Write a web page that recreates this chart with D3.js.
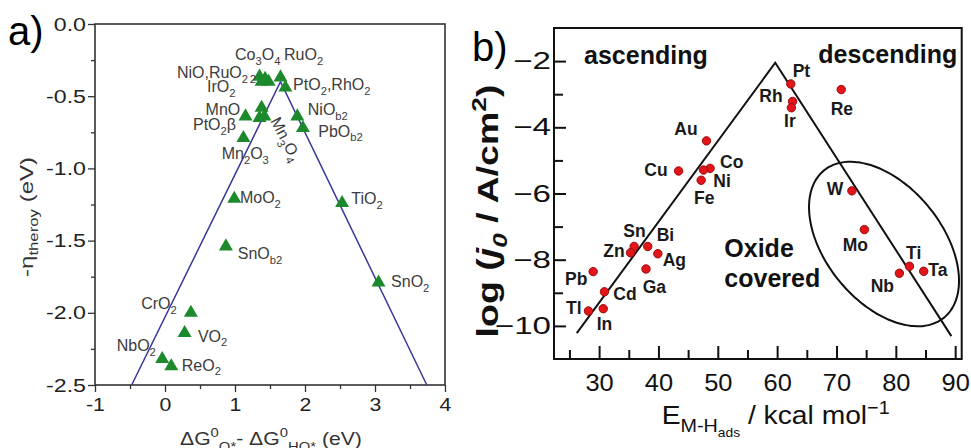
<!DOCTYPE html>
<html><head><meta charset="utf-8">
<script src="https://cdn.jsdelivr.net/npm/d3@7"></script>
<style>
body{margin:0;background:#fff}
text{font-family:"Liberation Sans",Arial,Helvetica,sans-serif;white-space:pre}
</style>
</head><body>
<svg id="c" width="971" height="448"></svg>
<script>
// ---------------- DATA: panel a ----------------
const oxideX = [1.35, 1.43, 1.38, 1.48, 1.65, 1.72, 1.15, 1.38, 1.35, 1.42, 1.89, 1.97, 1.12, 0.99, 2.53, 0.87, 3.05, 0.37, 0.28, -0.04, 0.09];
const oxideY = [-0.365, -0.38, -0.40, -0.40, -0.37, -0.44, -0.64, -0.58, -0.65, -0.64, -0.64, -0.72, -0.79, -1.21, -1.24, -1.54, -1.79, -2.00, -2.14, -2.32, -2.37];
const volcanoAX = [-0.476, 1.65, 3.74];
const volcanoAY = [-2.5, -0.40, -2.5];
const labelA = ["Co_{3}O_{4}", "RuO_{2}", "NiO,RuO_{2}", "IrO_{2}", "PtO_{2},RhO_{2}", "MnO", "NiO_{b2}", "PtO_{2}β", "PbO_{b2}", "Mn_{2}O_{3}", "Mn_{3}O_{4}", "MoO_{2}", "TiO_{2}", "SnO_{b2}", "SnO_{2}", "CrO_{2}", "VO_{2}", "NbO_{2}", "ReO_{2}"];
const labelAX = [1.00, 1.70, 0.17, 0.60, 1.83, 0.58, 2.04, 0.40, 2.19, 0.81, 1.50, 1.07, 2.66, 1.04, 3.23, -0.34, 0.47, -0.69, 0.24];
const labelAY = [-0.25, -0.25, -0.374, -0.47, -0.457, -0.63, -0.63, -0.734, -0.78, -0.935, -0.67, -1.24, -1.247, -1.627, -1.82, -1.974, -2.20, -2.265, -2.40];
const xTicksA = [-1, 0, 1, 2, 3, 4];
const xMinorA = [-0.5, 0.5, 1.5, 2.5, 3.5];
const yTicksA = [0, -0.5, -1.0, -1.5, -2.0, -2.5];
const yMinorA = [-0.25, -0.75, -1.25, -1.75, -2.25];

// ---------------- DATA: panel b ----------------
const metals = ["Pt", "Rh", "Ir", "Re", "Au", "Cu", "Ni", "Co", "Fe", "W", "Mo", "Ti", "Ta", "Nb", "Sn", "Zn", "Bi", "Ag", "Ga", "Pb", "Cd", "Tl", "In"];
const metalE = [62.3, 62.6, 62.4, 70.8, 48.1, 43.4, 48.7, 47.6, 47.2, 72.6, 74.7, 82.3, 84.7, 80.6, 35.9, 35.3, 38.2, 39.9, 37.9, 29.0, 30.9, 28.2, 30.7];
const metalJ = [-2.69, -3.22, -3.41, -2.86, -4.41, -5.32, -5.24, -5.29, -5.60, -5.92, -7.09, -8.20, -8.35, -8.41, -7.60, -7.79, -7.60, -7.82, -8.28, -8.36, -8.97, -9.55, -9.48];
const metalLabelX = [62.62, 56.99, 61.16, 69.03, 42.67, 37.62, 49.25, 50.37, 45.99, 68.35, 71.05, 81.72, 85.47, 75.77, 34.08, 30.71, 39.71, 40.72, 37.35, 24.25, 32.39, 24.42, 29.6];
const metalLabelY = [-2.49, -3.23, -3.98, -3.63, -4.23, -5.47, -5.81, -5.24, -6.32, -6.05, -7.74, -7.99, -8.49, -8.97, -7.31, -7.91, -7.44, -8.18, -9.02, -8.76, -9.22, -9.65, -10.12];
const volcanoBX = [26.24, 59.68, 89.36];
const volcanoBY = [-10.22, -2.05, -10.31];
const ellipseC = [78.01, -7.526];
const ellipseU = [10.11, -2.224];
const ellipseV = [7.58, 1.109];
const regionText = ["ascending", "descending", "Oxide", "covered"];
const regionX = [27.46, 66.94, 51.10, 51.10];
const regionY = [-2.09, -2.07, -7.93, -8.83];
const xTicksB = [30, 40, 50, 60, 70, 80, 90];
const xMinorB = [25, 35, 45, 55, 65, 75, 85];
const yTicksB = [-2, -4, -6, -8, -10];
const yMinorB = [-3, -5, -7, -9];

// ---------------- helpers ----------------
function parse(s) {
  const out = [], stack = []; let buf = "";
  const flush = () => { if (buf) out.push({t: buf, m: stack.slice()}); buf = ""; };
  for (let i = 0; i < s.length; i++) {
    const c = s[i];
    if ((c === "_" || c === "^" || c === "!") && s[i + 1] === "{") { flush(); stack.push(c); i++; }
    else if (c === "}") { flush(); stack.pop(); }
    else buf += c;
  }
  flush();
  return out;
}
function rich(textSel, s, base) {
  let cur = 0;
  parse(s).forEach(seg => {
    let size = base, off = 0, it = false;
    seg.m.forEach(m => {
      if (m === "_") { off += size * 0.3; size *= 0.7; }
      else if (m === "^") { off -= size * 0.4; size *= 0.7; }
      else it = true;
    });
    const ts = textSel.append("tspan").text(seg.t).attr("font-size", size).attr("dy", off - cur);
    if (it) ts.attr("font-style", "italic");
    cur = off;
  });
}
function label(parent, x, y, s, o) {
  const g = parent.append("g").attr("transform", `translate(${x},${y})` + (o.rot ? ` rotate(${o.rot})` : ""));
  const t = g.append("text").attr("font-size", o.size).attr("font-weight", o.weight || "normal")
    .attr("fill", o.fill || "#000").attr("text-anchor", o.anchor || "start");
  rich(t, s, o.size);
  if (o.width) {
    const w = t.node().getComputedTextLength();
    if (w > 0) t.attr("transform", `scale(${o.width / w},1)`);
  }
  return g;
}
function stretchTicks(sel, sx) {
  sel.selectAll(".tick text").each(function () {
    const x = +this.getAttribute("x") || 0;
    this.setAttribute("x", 0);
    this.setAttribute("transform", `translate(${x},0) scale(${sx},1)`);
  });
}

const svg = d3.select("#c");
svg.append("rect").attr("width", 971).attr("height", 448).attr("fill", "#fff");

// ---------------- PANEL A ----------------
const xA = d3.scaleLinear().domain([-1, 4]).range([95, 445]);
const yA = d3.scaleLinear().domain([-2.5, 0]).range([385, 24]);
const gA = svg.append("g");
const axCol = "#333";

const axYA = gA.append("g").attr("transform", `translate(95,0)`)
  .call(d3.axisLeft(yA).tickValues(yTicksA).tickSize(7).tickPadding(2).tickFormat(d => d.toFixed(1)));
axYA.select(".domain").remove();
axYA.selectAll("line").attr("stroke", axCol).attr("stroke-width", 1.3);
axYA.selectAll("text").attr("font-size", 19).attr("fill", "#222").attr("font-family", null);
stretchTicks(axYA, 1.22);
const axYAm = gA.append("g").attr("transform", `translate(95,0)`)
  .call(d3.axisLeft(yA).tickValues(yMinorA).tickSize(4).tickFormat(""));
axYAm.select(".domain").remove();
axYAm.selectAll("line").attr("stroke", axCol).attr("stroke-width", 1.3);

const axXA = gA.append("g").attr("transform", `translate(0,385)`)
  .call(d3.axisBottom(xA).tickValues(xTicksA).tickSize(7).tickPadding(6).tickFormat(d => String(d)));
axXA.select(".domain").remove();
axXA.selectAll("line").attr("stroke", axCol).attr("stroke-width", 1.3);
axXA.selectAll("text").attr("font-size", 19).attr("fill", "#222").attr("font-family", null);
stretchTicks(axXA, 1.12);
const axXAm = gA.append("g").attr("transform", `translate(0,385)`)
  .call(d3.axisBottom(xA).tickValues(xMinorA).tickSize(4).tickFormat(""));
axXAm.select(".domain").remove();
axXAm.selectAll("line").attr("stroke", axCol).attr("stroke-width", 1.3);

gA.append("rect").attr("x", xA(-1)).attr("y", yA(0)).attr("width", xA(4) - xA(-1)).attr("height", yA(-2.5) - yA(0))
  .attr("fill", "none").attr("stroke", axCol).attr("stroke-width", 1.6);

gA.append("path").datum(d3.zip(volcanoAX, volcanoAY))
  .attr("d", d3.line().x(d => xA(d[0])).y(d => yA(d[1])))
  .attr("fill", "none").attr("stroke", "#38389a").attr("stroke-width", 1.5);

gA.selectAll(".tri").data(d3.zip(oxideX, oxideY)).join("path")
  .attr("d", d3.symbol(d3.symbolTriangle, 85))
  .attr("transform", d => `translate(${xA(d[0])},${yA(d[1])})`)
  .attr("fill", "#1c8a2c");

labelA.forEach((s, i) => {
  label(gA, xA(labelAX[i]), yA(labelAY[i]), s, {size: 16, fill: "#3c3c3c", rot: s === "Mn_{3}O_{4}" ? 62 : 0});
});
// stray subscript in the original figure
label(gA, xA(1.21), yA(-0.41), "2", {size: 11.5, fill: "#3c3c3c"});

label(gA, 33, 217, "-η_{theroy} (eV)", {size: 18, fill: "#333", rot: -90, anchor: "middle", width: 120});
label(gA, 180, 445, "ΔG^{0}_{O*}- ΔG^{0}_{HO*} (eV)", {size: 19, fill: "#333", width: 182});
label(svg, 8, 45, "a)", {size: 40});

// ---------------- PANEL B ----------------
const xB = d3.scaleLinear().domain([22.4, 91.1]).range([554, 961.7]);
const yB = d3.scaleLinear().domain([-11, -1]).range([359, 28]);
const gB = svg.append("g");

const axYB = gB.append("g").attr("transform", `translate(554,0)`)
  .call(d3.axisLeft(yB).tickValues(yTicksB).tickSizeInner(-12).tickSizeOuter(0).tickPadding(3).tickFormat(d => "\u2212" + Math.abs(d)));
axYB.select(".domain").remove();
axYB.selectAll("line").attr("stroke", "#111").attr("stroke-width", 2);
axYB.selectAll("text").attr("font-size", 24).attr("fill", "#111").attr("font-family", null);
stretchTicks(axYB, 1.38);
const axYBm = gB.append("g").attr("transform", `translate(554,0)`)
  .call(d3.axisLeft(yB).tickValues(yMinorB).tickSizeInner(-9).tickSizeOuter(0).tickFormat(""));
axYBm.select(".domain").remove();
axYBm.selectAll("line").attr("stroke", "#111").attr("stroke-width", 2);

const axXB = gB.append("g").attr("transform", `translate(0,359)`)
  .call(d3.axisBottom(xB).tickValues(xTicksB).tickSizeInner(-13).tickSizeOuter(0).tickPadding(15).tickFormat(d => String(d)));
axXB.select(".domain").remove();
axXB.selectAll("line").attr("stroke", "#111").attr("stroke-width", 2);
axXB.selectAll("text").attr("font-size", 24).attr("fill", "#111").attr("font-family", null);
stretchTicks(axXB, 1.06);
const axXBm = gB.append("g").attr("transform", `translate(0,359)`)
  .call(d3.axisBottom(xB).tickValues(xMinorB).tickSizeInner(-9).tickSizeOuter(0).tickFormat(""));
axXBm.select(".domain").remove();
axXBm.selectAll("line").attr("stroke", "#111").attr("stroke-width", 2);

gB.append("rect").attr("x", xB(22.4)).attr("y", yB(-1)).attr("width", xB(91.1) - xB(22.4)).attr("height", yB(-11) - yB(-1))
  .attr("fill", "none").attr("stroke", "#111").attr("stroke-width", 2);

gB.append("path").datum(d3.zip(volcanoBX, volcanoBY))
  .attr("d", d3.line().x(d => xB(d[0])).y(d => yB(d[1])))
  .attr("fill", "none").attr("stroke", "#111").attr("stroke-width", 2);

const ell = d3.range(0, 2 * Math.PI + 0.001, Math.PI / 60).map(t => [
  ellipseC[0] + ellipseU[0] * Math.cos(t) + ellipseV[0] * Math.sin(t),
  ellipseC[1] + ellipseU[1] * Math.cos(t) + ellipseV[1] * Math.sin(t)]);
gB.append("path").datum(ell)
  .attr("d", d3.line().x(d => xB(d[0])).y(d => yB(d[1])).curve(d3.curveCardinalClosed))
  .attr("fill", "none").attr("stroke", "#111").attr("stroke-width", 2);

gB.selectAll(".pt").data(d3.zip(metalE, metalJ)).join("circle")
  .attr("cx", d => xB(d[0])).attr("cy", d => yB(d[1])).attr("r", 4.2)
  .attr("fill", "#e3151b").attr("stroke", "#9a0a0a").attr("stroke-width", 1);

metals.forEach((m, i) => {
  label(gB, xB(metalLabelX[i]), yB(metalLabelY[i]), m, {size: 17.5, weight: "bold", fill: "#1a1a1a"});
});
regionText.forEach((s, i) => {
  label(gB, xB(regionX[i]), yB(regionY[i]), s, {size: 25, weight: "bold", fill: "#111"});
});

label(svg, 498, 211, "log (!{j_{0}} / A/cm^{2})", {size: 30, weight: "bold", fill: "#111", rot: -90, anchor: "middle", width: 253});
label(svg, 661.7, 424, "E_{M-H_{ads}} / kcal mol^{−1}", {size: 26, fill: "#111", width: 228});
label(svg, 472, 61, "b)", {size: 40});
</script>
</body></html>
